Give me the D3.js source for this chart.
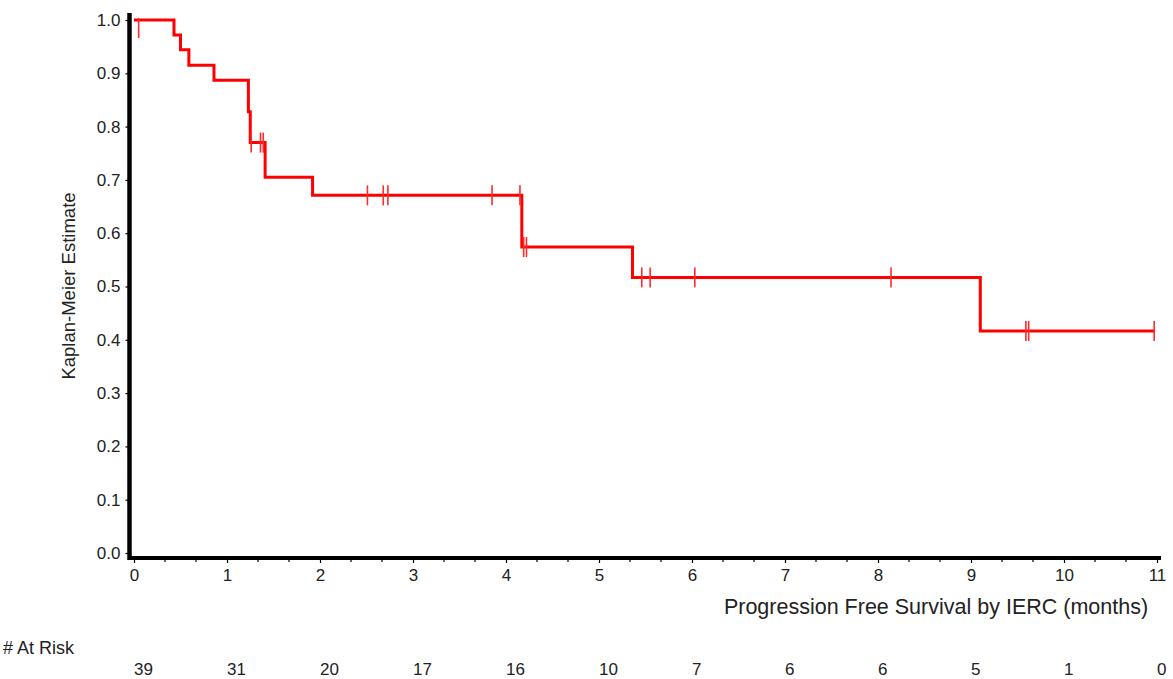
<!DOCTYPE html>
<html>
<head>
<meta charset="utf-8">
<script src="https://cdn.jsdelivr.net/npm/d3@7"></script>
<style>
  html, body { margin: 0; padding: 0; background: #fff; }
  svg { display: block; font-family: "Liberation Sans", Arial, sans-serif; }
</style>
</head>
<body>
<svg id="chart" width="1173" height="679"></svg>
<script>
// ---- data ----
const eventTimes    = [0.43, 0.50, 0.59, 0.86, 1.23, 1.25, 1.41, 1.92, 4.17, 5.36, 9.10];
const survivalAfter = [0.972, 0.944, 0.915, 0.887, 0.828, 0.770, 0.705, 0.671, 0.574, 0.517, 0.4165];
const censorTimes   = [0.05, 1.26, 1.36, 1.39, 2.51, 2.68, 2.73, 3.85, 4.15, 4.19, 4.22, 5.46, 5.55, 6.03, 8.14, 9.59, 9.62, 10.97];
const lastTime      = 10.97;
const xTickValues   = [0, 1, 2, 3, 4, 5, 6, 7, 8, 9, 10, 11];
const yTickValues   = [0, 0.1, 0.2, 0.3, 0.4, 0.5, 0.6, 0.7, 0.8, 0.9, 1.0];
const atRiskTimes   = [0, 1, 2, 3, 4, 5, 6, 7, 8, 9, 10, 11];
const atRiskCounts  = [39, 31, 20, 17, 16, 10, 7, 6, 6, 5, 1, 0];

const svg = d3.select("#chart");
const x = d3.scaleLinear().domain([0, 11]).range([134, 1157]);
const y = d3.scaleLinear().domain([0, 1]).range([553, 20]);

// survival function
function S(t) {
  let s = 1;
  for (let i = 0; i < eventTimes.length; i++) if (eventTimes[i] <= t) s = survivalAfter[i];
  return s;
}

// step points
const pts = [[0, 1]];
let prev = 1;
eventTimes.forEach((t, i) => { pts.push([t, prev]); pts.push([t, survivalAfter[i]]); prev = survivalAfter[i]; });
pts.push([lastTime, prev]);

svg.append("defs").append("clipPath").attr("id", "clip")
  .append("rect").attr("x", 131).attr("y", 18).attr("width", 1040).attr("height", 540);

const g = svg.append("g").attr("clip-path", "url(#clip)");
g.append("path")
  .datum(pts)
  .attr("d", d3.line().x(d => x(d[0])).y(d => y(d[1])))
  .attr("fill", "none").attr("stroke", "#ff0000").attr("stroke-width", 3)
  .attr("stroke-linejoin", "miter");

const cTop = d => Math.max(y(S(d)) - 10, 18);
g.selectAll(".cens").data(censorTimes).enter().append("line")
  .attr("x1", d => x(d)).attr("x2", d => x(d))
  .attr("y1", d => cTop(d)).attr("y2", d => cTop(d) + 20)
  .attr("stroke", "#ff2a2a").attr("stroke-width", 1.6);

// y axis
const yAxis = d3.axisLeft(y).tickValues(yTickValues).tickFormat(d3.format(".1f")).tickSize(4).tickPadding(5);
const gy = svg.append("g").attr("transform", "translate(129.5,0)").call(yAxis);
gy.select(".domain").remove();
gy.append("line").attr("x1", 0).attr("x2", 0).attr("y1", 13).attr("y2", 560)
  .attr("stroke", "#000").attr("stroke-width", 4.5);
gy.selectAll(".tick line").attr("stroke", "#000").attr("stroke-width", 1.2);
gy.selectAll(".tick text").attr("font-size", 17).attr("fill", "#222")
  .attr("font-family", "Liberation Sans, Arial, sans-serif");

// x axis
const xAxis = d3.axisBottom(x).tickValues(xTickValues).tickFormat(d3.format("d")).tickSize(5).tickPadding(6);
const gx = svg.append("g").attr("transform", "translate(0,558)").call(xAxis);
gx.select(".domain").remove();
gx.append("line").attr("x1", 128).attr("x2", 1161).attr("y1", 0).attr("y2", 0)
  .attr("stroke", "#000").attr("stroke-width", 4);
gx.selectAll(".tick line").attr("stroke", "#000").attr("stroke-width", 1.2);
gx.selectAll(".tick text").attr("font-size", 17).attr("fill", "#222")
  .attr("font-family", "Liberation Sans, Arial, sans-serif");
// minor ticks every 1/3 month
const minor = d3.range(0, 33).map(i => i / 3).filter((d, i) => i % 3 !== 0);
gx.selectAll(".minor").data(minor).enter().append("line")
  .attr("x1", d => x(d)).attr("x2", d => x(d)).attr("y1", 0).attr("y2", 4)
  .attr("stroke", "#000").attr("stroke-width", 1.2);

// axis titles
svg.append("text").attr("x", 936).attr("y", 614).attr("text-anchor", "middle")
  .attr("font-size", 21.5).attr("fill", "#222").text("Progression Free Survival by IERC (months)");
svg.append("text").attr("transform", "translate(75,286) rotate(-90)").attr("text-anchor", "middle")
  .attr("font-size", 18.5).attr("fill", "#222").text("Kaplan-Meier Estimate");

// at risk
svg.append("text").attr("x", 3).attr("y", 654).attr("font-size", 18).attr("fill", "#222").text("# At Risk");
svg.selectAll(".risk").data(atRiskTimes).enter().append("text")
  .attr("x", d => x(d)).attr("y", 675).attr("font-size", 17).attr("fill", "#222")
  .text((d, i) => atRiskCounts[i]);
</script>
</body>
</html>
